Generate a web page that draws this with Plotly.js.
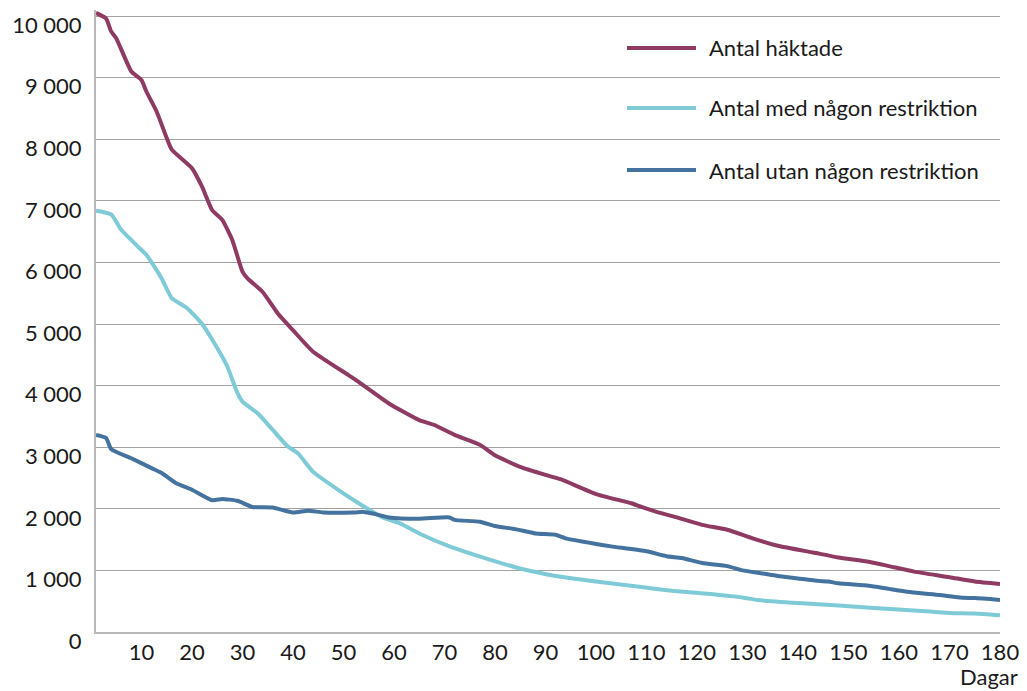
<!DOCTYPE html>
<html>
<head>
<meta charset="utf-8">
<script src="https://cdn.plot.ly/plotly-3.0.1.min.js"></script>
<style>html,body{margin:0;padding:0;background:#fff}#chart{width:1027px;height:691px}</style>
</head>
<body>
<div id="chart"></div>
<script>
// ---- data ----
const seriesNames = ["Antal häktade", "Antal med någon restriktion", "Antal utan någon restriktion"];

const haktadeDays = [1,3,4,5,8,10,11,13,15,16,20,22,24,26,28,30,31,34,37,40,44,51,53,59,65,68,72,77,80,85,90,93,100,107,109,112,116,121,126,131,136,143,148,154,158,163,170,175,180];
const haktadeVals = [10050,9960,9750,9640,9100,8960,8770,8450,8020,7830,7530,7230,6850,6690,6360,5850,5740,5520,5170,4900,4550,4170,4060,3710,3440,3360,3200,3040,2870,2680,2550,2480,2240,2090,2030,1950,1860,1740,1660,1520,1400,1290,1210,1140,1070,980,890,820,780];

const medDays = [1,4,6,9,11,14,16,19,22,25,27,29,30,33,36,39,41,44,50,53,58,61,65,71,78,85,92,100,109,115,122,129,132,140,148,155,163,170,175,180];
const medVals = [6840,6780,6530,6280,6120,5740,5420,5260,5000,4610,4310,3880,3740,3550,3280,3010,2900,2600,2250,2090,1850,1770,1600,1390,1200,1030,910,820,730,670,620,560,520,470,430,390,350,310,300,270];

const utanDays = [1,3,4,8,12,14,17,20,24,26,29,32,36,40,43,46,52,54,56,59,65,71,72,77,80,84,88,92,94,100,103,110,114,117,121,126,129,133,136,140,144,146,148,154,158,163,168,172,175,180];
const utanVals = [3200,3150,2970,2820,2660,2580,2410,2310,2140,2160,2130,2030,2020,1940,1970,1940,1940,1950,1920,1860,1840,1860,1820,1790,1720,1670,1600,1580,1520,1430,1390,1310,1230,1200,1120,1070,1000,950,910,870,830,820,790,750,700,640,600,560,550,520];

const xTickVals = [10,20,30,40,50,60,70,80,90,100,110,120,130,140,150,160,170,180];
const yTickVals = [0,1000,2000,3000,4000,5000,6000,7000,8000,9000,10000];
const yTickText = ["0","1 000","2 000","3 000","4 000","5 000","6 000","7 000","8 000","9 000","10 000"];
const xAxisLabel = "Dagar";

// ---- styling ----
const colors = ["#8e3a62", "#7ecbd7", "#44739f"];
const FONT = "Lato, 'Open Sans', sans-serif";
const TXT = "#1a1a1a";

const xs = [haktadeDays, medDays, utanDays];
const ys = [haktadeVals, medVals, utanVals];

const traces = xs.map((x, i) => ({
  type: "scatter", mode: "lines", x: x, y: ys[i], name: seriesNames[i],
  line: {color: colors[i], width: 4, shape: "spline", smoothing: 0.5},
  showlegend: false, hoverinfo: "x+y"
}));

// plot area: 10 000 gridline at y=16px, 0 at y=632px; top margin leaves room for the line peak
const TOP = 10;
const yMax = 10000 * (691 - 59 - TOP) / 616;

// custom legend (long line samples like the reference)
const legPix = [48, 108, 170];
const legY = legPix.map(p => (632 - p) / (632 - TOP));
const shapes = seriesNames.map((n, i) => ({
  type: "line", xref: "paper", yref: "paper",
  x0: 0.5874, x1: 0.6637, y0: legY[i], y1: legY[i],
  line: {color: colors[i], width: 4}
}));
const annotations = seriesNames.map((n, i) => ({
  xref: "paper", yref: "paper", x: 0.6755, y: legY[i],
  xanchor: "left", yanchor: "middle", showarrow: false,
  text: n, font: {family: FONT, size: 22, color: TXT}
}));
annotations.push({
  xref: "paper", yref: "paper", x: 1.022, y: (632 - 676) / (632 - TOP),
  xanchor: "right", yanchor: "middle", showarrow: false,
  text: xAxisLabel, font: {family: FONT, size: 22, color: TXT}
});

const layout = {
  width: 1027, height: 691,
  margin: {l: 96, r: 27, t: TOP, b: 59},
  paper_bgcolor: "#ffffff", plot_bgcolor: "#ffffff",
  font: {family: FONT, size: 22, color: TXT},
  showlegend: false,
  xaxis: {
    range: [1, 180], tickmode: "array", tickvals: xTickVals,
    showgrid: false, zeroline: false,
    showline: true, linecolor: "#b8b8b8", linewidth: 2,
    ticks: "", tickfont: {family: FONT, size: 22, color: TXT}
  },
  yaxis: {
    range: [0, yMax], tickmode: "array", tickvals: yTickVals, ticktext: yTickText,
    showgrid: true, gridcolor: "#a3a3a3", gridwidth: 1,
    zeroline: false, showline: true, linecolor: "#b8b8b8", linewidth: 2,
    ticks: "", ticklabelstandoff: 8, ticklabelshift: 9,
    tickfont: {family: FONT, size: 22, color: TXT}
  },
  shapes: shapes,
  annotations: annotations
};

Plotly.newPlot("chart", traces, layout, {displayModeBar: false, staticPlot: true});
</script>
</body>
</html>
